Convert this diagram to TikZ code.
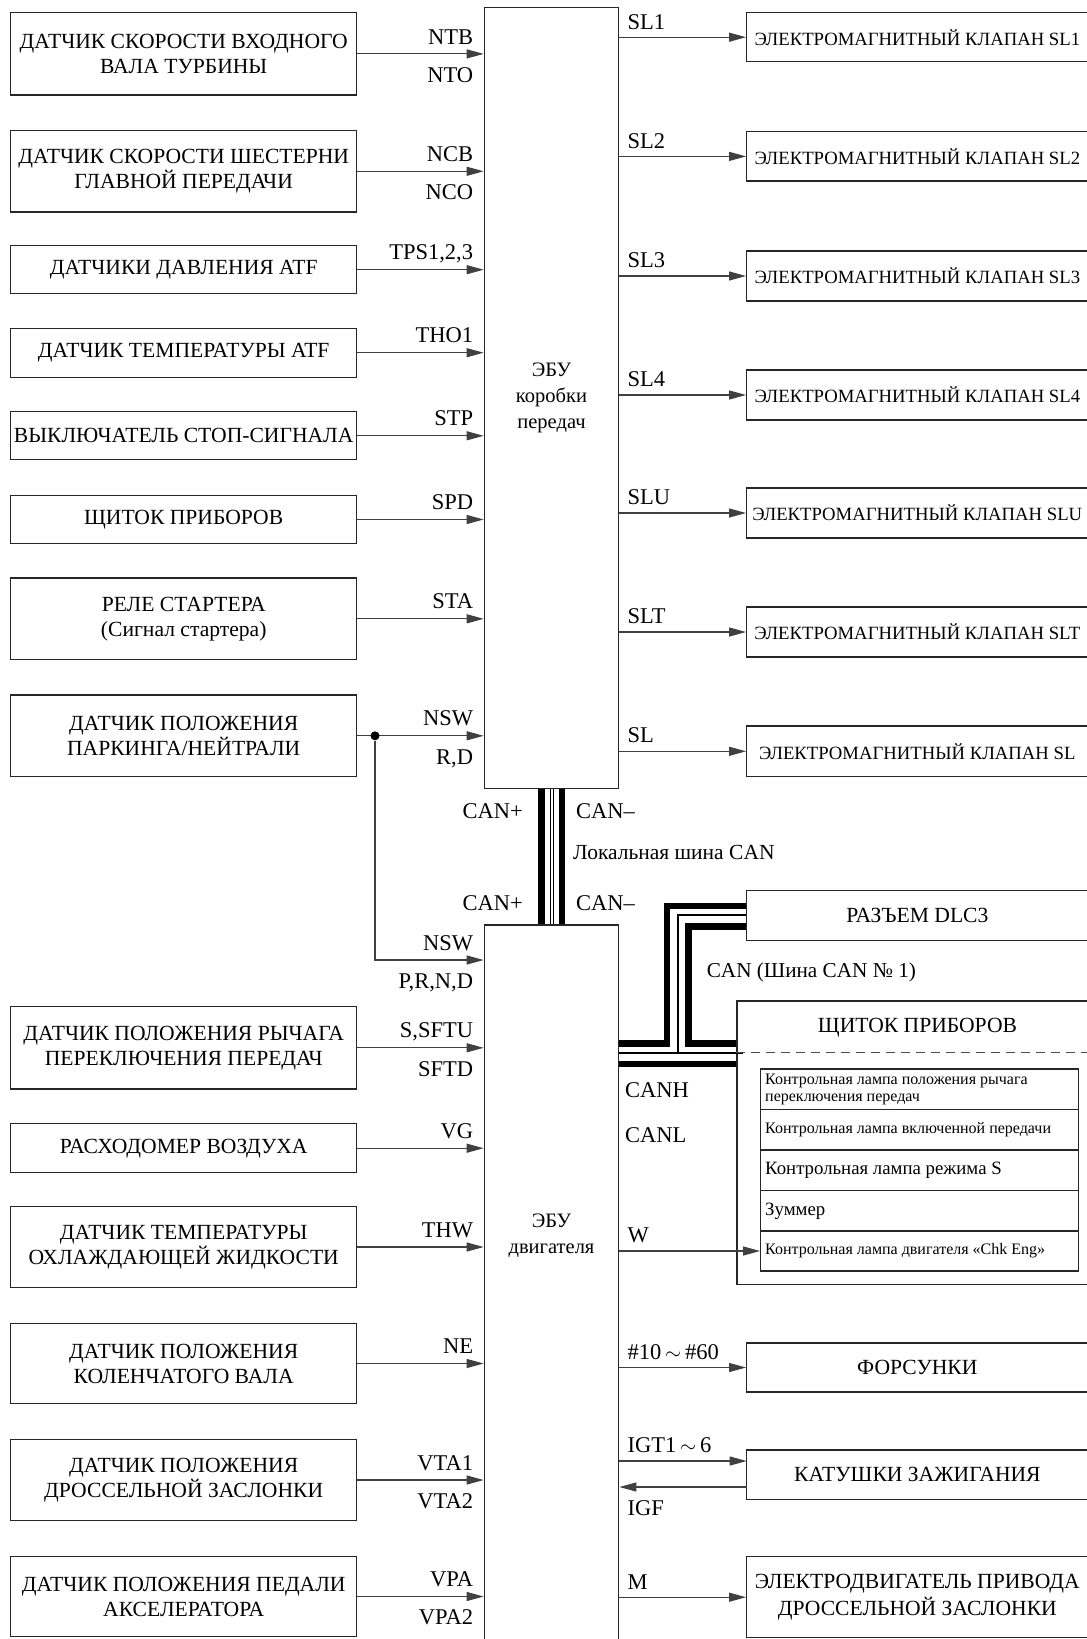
\documentclass[tikz,border=0pt]{standalone}
\usepackage{fontspec}
\setmainfont{Liberation Serif}
\usetikzlibrary{arrows.meta}
\newcommand\fBox{\fontsize{21.6pt}{25pt}\selectfont}
\newcommand\fMot{\fontsize{21.6pt}{27pt}\selectfont}
\newcommand\fRb{\fontsize{18.7pt}{22pt}\selectfont}
\newcommand\fSig{\fontsize{22.5pt}{26pt}\selectfont}
\newcommand\fEbu{\fontsize{20.5pt}{26pt}\selectfont}
\newcommand\fSml{\fontsize{16pt}{17pt}\selectfont}
\newcommand\fMid{\fontsize{18.8pt}{20pt}\selectfont}
\tikzset{
  box/.style={draw=black!85, line width=1.3pt, inner sep=0pt, align=center},
  lbox/.style={box, minimum width=346pt, font=\fBox},
  rbox/.style={box, minimum width=341.3pt, font=\fRb},
  rboxb/.style={box, minimum width=341.3pt, font=\fBox},
  sig/.style={line width=1.1pt, draw=black!75, -{Triangle[length=17pt,width=9pt]}},
  lab/.style={font=\fSig, inner sep=0pt},
  canthick/.style={line width=6.7pt, line join=miter, line cap=butt},
  canthin/.style={line width=1.2pt, line join=miter},
  cell/.style={draw=black!85, line width=1.2pt, minimum width=317.6pt, inner sep=0pt},
  celltxt/.style={inner sep=0pt, anchor=west, align=left},
  dot/.style={circle, fill=black, inner sep=0pt, minimum size=9pt},
}
\begin{document}
\begin{tikzpicture}[x=1pt,y=-1pt]
\useasboundingbox (0,0) rectangle (1087,1639);
\clip (0,0) rectangle (1087,1639);

% ---------- ECUs ----------
\node[box, minimum width=134.4pt, minimum height=781pt, font=\fEbu] (tcm) at (551.5,397.8) {ЭБУ\\коробки\\передач};
\node[box, minimum width=134.4pt, minimum height=735pt] (ecm) at (551.5,1292.5) {};
\node[font=\fEbu, align=center, inner sep=0pt] (ecmt) at (551.5,1235.5) {ЭБУ\\двигателя};

% ---------- left inputs ----------
\node[lbox, minimum height=82.3pt] (s1) at (183.7,53.9) {ДАТЧИК СКОРОСТИ ВХОДНОГО\\ВАЛА ТУРБИНЫ};
\node[lbox, minimum height=81.6pt] (s2) at (183.7,171.3) {ДАТЧИК СКОРОСТИ ШЕСТЕРНИ\\ГЛАВНОЙ ПЕРЕДАЧИ};
\node[lbox, minimum height=48.1pt] (s3) at (183.7,269.7) {ДАТЧИКИ ДАВЛЕНИЯ ATF};
\node[lbox, minimum height=49pt] (s4) at (183.7,352.7) {ДАТЧИК ТЕМПЕРАТУРЫ ATF};
\node[lbox, minimum height=48pt] (s5) at (183.7,435.8) {ВЫКЛЮЧАТЕЛЬ СТОП-СИГНАЛА};
\node[lbox, minimum height=48pt] (s6) at (183.7,519.5) {ЩИТОК ПРИБОРОВ};
\node[lbox, minimum height=81.5pt] (s7) at (183.7,618.8) {РЕЛЕ СТАРТЕРА\\(Сигнал стартера)};
\node[lbox, minimum height=81.6pt] (s8) at (183.7,735.8) {ДАТЧИК ПОЛОЖЕНИЯ\\ПАРКИНГА/НЕЙТРАЛИ};
\node[lbox, minimum height=82.5pt] (s9) at (183.7,1047.8) {ДАТЧИК ПОЛОЖЕНИЯ РЫЧАГА\\ПЕРЕКЛЮЧЕНИЯ ПЕРЕДАЧ};
\node[lbox, minimum height=49pt] (s10) at (183.7,1148.2) {РАСХОДОМЕР ВОЗДУХА};
\node[lbox, minimum height=81.5pt] (s11) at (183.7,1247) {ДАТЧИК ТЕМПЕРАТУРЫ\\ОХЛАЖДАЮЩЕЙ ЖИДКОСТИ};
\node[lbox, minimum height=80.5pt] (s12) at (183.7,1363.5) {ДАТЧИК ПОЛОЖЕНИЯ\\КОЛЕНЧАТОГО ВАЛА};
\node[lbox, minimum height=81.6pt] (s13) at (183.7,1480) {ДАТЧИК ПОЛОЖЕНИЯ\\ДРОССЕЛЬНОЙ ЗАСЛОНКИ};
\node[lbox, minimum height=80.5pt] (s14) at (183.7,1596.5) {ДАТЧИК ПОЛОЖЕНИЯ ПЕДАЛИ\\АКСЕЛЕРАТОРА};

% ---------- right outputs ----------
\node[rbox, minimum height=49pt] (o1) at (917.35,37.2) {ЭЛЕКТРОМАГНИТНЫЙ КЛАПАН SL1};
\node[rbox, minimum height=49.3pt] (o2) at (917.35,156.4) {ЭЛЕКТРОМАГНИТНЫЙ КЛАПАН SL2};
\node[rbox, minimum height=50pt] (o3) at (917.35,276) {ЭЛЕКТРОМАГНИТНЫЙ КЛАПАН SL3};
\node[rbox, minimum height=50pt] (o4) at (917.35,395) {ЭЛЕКТРОМАГНИТНЫЙ КЛАПАН SL4};
\node[rbox, minimum height=50pt] (o5) at (917.35,513) {ЭЛЕКТРОМАГНИТНЫЙ КЛАПАН SLU};
\node[rbox, minimum height=50pt] (o6) at (917.35,632) {ЭЛЕКТРОМАГНИТНЫЙ КЛАПАН SLT};
\node[rbox, minimum height=50.6pt] (o7) at (917.35,751.3) {ЭЛЕКТРОМАГНИТНЫЙ КЛАПАН SL};
\node[rboxb, minimum height=50.2pt] (dlc) at (917.35,915.6) {РАЗЪЕМ DLC3};
\node[rboxb, minimum height=49pt] (inj) at (917.35,1367.5) {ФОРСУНКИ};
\node[rboxb, minimum height=49.3pt] (coil) at (917.35,1474.7) {КАТУШКИ ЗАЖИГАНИЯ};
\node[rboxb, minimum height=81pt, font=\fMot] (mot) at (917.35,1597.2) {ЭЛЕКТРОДВИГАТЕЛЬ ПРИВОДА\\ДРОССЕЛЬНОЙ ЗАСЛОНКИ};

% ---------- instrument cluster ----------
\node[box, minimum width=361pt, minimum height=283.5pt] (clu) at (917.5,1142.75) {};
\node[font=\fBox, inner sep=0pt] (clut) at (917.5,1028) {ЩИТОК ПРИБОРОВ};
\node[cell, minimum height=40.3pt] (r1) at (919.5,1089.15) {};
\node[cell, minimum height=40.7pt] (r2) at (919.5,1129.65) {};
\node[cell, minimum height=40.7pt] (r3) at (919.5,1170.35) {};
\node[cell, minimum height=40.3pt] (r4) at (919.5,1210.85) {};
\node[cell, minimum height=40pt] (r5) at (919.5,1251) {};
\node[celltxt, font=\fSml] (t1) at (765,1089.5) {Контрольная лампа положения рычага\\переключения передач};
\node[celltxt, font=\fSml] (t2) at (765,1130) {Контрольная лампа включенной передачи};
\node[celltxt, font=\fMid] (t3) at (765,1170.5) {Контрольная лампа режима S};
\node[celltxt, font=\fMid] (t4) at (765,1211) {Зуммер};
\node[celltxt, font=\fSml] (t5) at (765,1251) {Контрольная лампа двигателя «Chk Eng»};

% ---------- left connectors ----------
\foreach \s in {s1,s2,s3,s4,s5,s6,s7,s8,s9,s10,s11,s12,s13,s14}
  \draw[sig] (\s.east) -- (\s.east -| tcm.west);
\node[dot] (j) at (375,735.8) {};
\coordinate (nsw2) at (375,960);
\draw[sig] (j) -- (nsw2) -- (nsw2 -| ecm.west);

% labels left
\node[lab, anchor=base east] (ln1) at (473.3,44.3) {NTB};
\node[lab, anchor=base east] (ln1b) at (473.3,82.7) {NTO};
\node[lab, anchor=base east] (ln2) at (473.3,161.3) {NCB};
\node[lab, anchor=base east] (ln2b) at (473.3,199.7) {NCO};
\node[lab, anchor=base east] (ln3) at (473.3,259.7) {TPS1,2,3};
\node[lab, anchor=base east] (ln4) at (473.3,342.7) {THO1};
\node[lab, anchor=base east] (ln5) at (473.3,425.8) {STP};
\node[lab, anchor=base east] (ln6) at (473.3,509.5) {SPD};
\node[lab, anchor=base east] (ln7) at (473.3,608.8) {STA};
\node[lab, anchor=base east] (ln8) at (473.3,725.8) {NSW};
\node[lab, anchor=base east] (ln8b) at (473.3,764.2) {R,D};
\node[lab, anchor=base east] (ln9) at (473.3,950) {NSW};
\node[lab, anchor=base east] (ln9b) at (473.3,988.4) {P,R,N,D};
\node[lab, anchor=base east] (ln10) at (473.3,1037.8) {S,SFTU};
\node[lab, anchor=base east] (ln10b) at (473.3,1076.2) {SFTD};
\node[lab, anchor=base east] (ln11) at (473.3,1138.2) {VG};
\node[lab, anchor=base east] (ln12) at (473.3,1237) {THW};
\node[lab, anchor=base east] (ln13) at (473.3,1353.5) {NE};
\node[lab, anchor=base east] (ln14) at (473.3,1470) {VTA1};
\node[lab, anchor=base east] (ln14b) at (473.3,1508.4) {VTA2};
\node[lab, anchor=base east] (ln15) at (473.3,1586.5) {VPA};
\node[lab, anchor=base east] (ln15b) at (473.3,1624.9) {VPA2};

% ---------- right connectors ----------
\foreach \o in {o1,o2,o3,o4,o5,o6,o7}
  \draw[sig] (\o.west -| tcm.east) -- (\o.west);
\draw[sig] (inj.west -| ecm.east) -- (inj.west);
\coordinate (igt) at (746.7,1461);
\coordinate (igf) at (746.7,1487);
\draw[sig] (igt -| ecm.east) -- (igt);
\draw[sig] (igf) -- (igf -| ecm.east);
\draw[sig] (mot.west -| ecm.east) -- (mot.west);
\draw[sig] (r5.west -| ecm.east) -- (r5.west);

\node[lab, anchor=base west] (lr1) at (627.5,29.2) {SL1};
\node[lab, anchor=base west] (lr2) at (627.5,148.3) {SL2};
\node[lab, anchor=base west] (lr3) at (627.5,267.6) {SL3};
\node[lab, anchor=base west] (lr4) at (627.5,386.6) {SL4};
\node[lab, anchor=base west] (lr5) at (627.5,504.6) {SLU};
\node[lab, anchor=base west] (lr6) at (627.5,623.6) {SLT};
\node[lab, anchor=base west] (lr7) at (627.5,742.1) {SL};
\node[lab, anchor=base west] (lr8) at (627.5,1242.6) {W};
\node[lab, anchor=base west] (lr9) at (627.5,1359) {\#10\,$\sim$\,\#60};
\node[lab, anchor=base west] (lr10) at (627.5,1452.6) {IGT1\,$\sim$\,6};
\node[lab, anchor=base west] (lr11) at (627.5,1515.4) {IGF};
\node[lab, anchor=base west] (lr12) at (627.5,1589.6) {M};

% ---------- CAN ----------
\draw[canthick] (541.5,0 |- tcm.south) -- (541.5,0 |- ecm.north);
\draw[line width=1pt] (550.8,0 |- tcm.south) -- (550.8,0 |- ecm.north);
\draw[line width=1pt] (553.6,0 |- tcm.south) -- (553.6,0 |- ecm.north);
\draw[canthick] (562,0 |- tcm.south) -- (562,0 |- ecm.north);

\coordinate (ca) at (667,906);
\coordinate (cb) at (688.3,926.7);
\coordinate (cthin) at (678,915);
\draw[canthick] (ecm.east |- 0,1043.5) -- (ca |- 0,1043.5) -- (ca) -- (ca -| dlc.west);
\draw[canthin] (ecm.east |- 0,1053) -- (743,1053);
\draw[canthin] (cthin |- 0,1053) -- (cthin) -- (cthin -| dlc.west);
\draw[canthick] (clu.west |- 0,1043.5) -- (cb |- 0,1043.5) -- (cb) -- (cb -| dlc.west);
\draw[canthick] (ecm.east |- 0,1064) -- (clu.west |- 0,1064);
\draw[line width=1.2pt, draw=black!70, dash pattern=on 9pt off 6pt] (clu.west |- 0,1052.7) -- (1090,1052.7);

\node[lab, anchor=east] (cp1) at (523,811) {CAN+};
\node[lab, anchor=west] (cm1) at (576,811) {CAN–};
\node[lab, anchor=east] (cp2) at (523,903) {CAN+};
\node[lab, anchor=west] (cm2) at (576,903) {CAN–};
\node[inner sep=0pt, anchor=west, font=\fontsize{21.5pt}{24pt}\selectfont] (loc) at (573,852) {Локальная шина CAN};
\node[inner sep=0pt, anchor=west, font=\fontsize{21.2pt}{24pt}\selectfont] (can1) at (706.6,972) {CAN (Шина CAN № 1)};
\node[lab, anchor=west] (canh) at (625,1090) {CANH};
\node[lab, anchor=west] (canl) at (625,1135) {CANL};
\end{tikzpicture}
\end{document}
